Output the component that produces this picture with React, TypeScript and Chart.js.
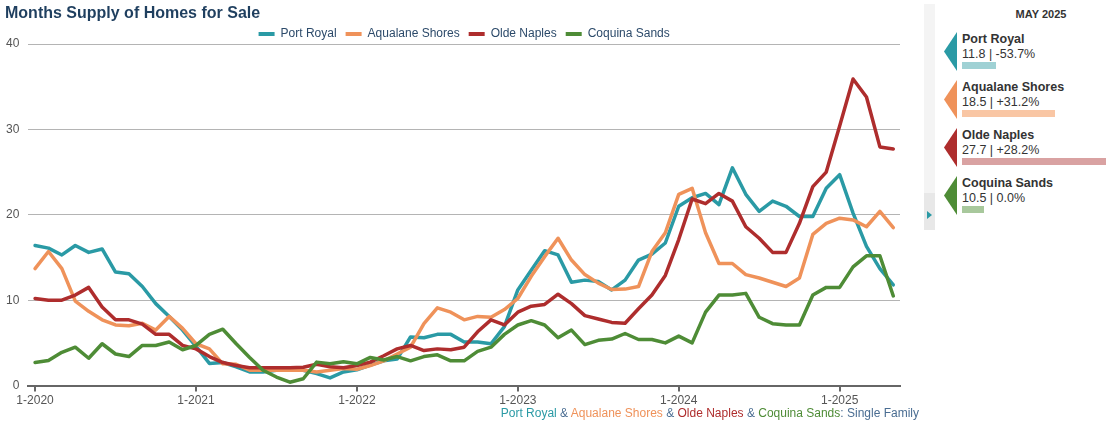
import React, { useEffect, useRef } from "react";
import { Chart, registerables } from "chart.js";

Chart.register(...registerables);

const years = ["2020", "2021", "2022", "2023", "2024", "2025"];
const monthsPerYear = 12;
const lastMonthCount = 5; // Jan..May 2025
const tickLabels = ["1-2020", "1-2021", "1-2022", "1-2023", "1-2024", "1-2025"];

const seriesNames = ["Port Royal", "Aqualane Shores", "Olde Naples", "Coquina Sands"];
const seriesColors = ["#2a9aa5", "#ef925a", "#ae2d2d", "#4e8c36"];
const seriesLightColors = ["#9fd1d4", "#f9c6a4", "#d9a2a2", "#a8c89c"];

const portRoyal = [
  16.4, 16.1, 15.3, 16.4, 15.6, 16.0, 13.3, 13.1, 11.6, 9.6, 8.1, 6.5,
  4.6, 2.6, 2.7, 2.2, 1.6, 1.6, 1.8, 1.8, 1.8, 1.4, 0.9, 1.6,
  1.85, 2.4, 2.9, 3.1, 5.7, 5.6, 6.0, 6.0, 5.1, 5.1, 4.9, 6.9,
  11.2, 13.5, 15.8, 15.3, 12.1, 12.35, 12.2, 11.2, 12.35, 14.7, 15.4, 16.7,
  21.0, 22.0, 22.5, 21.2, 25.5, 22.4, 20.4, 21.6, 21.0, 19.8, 19.8, 23.1,
  24.7, 20.2, 16.3, 13.7, 11.8,
];
const aqualaneShores = [
  13.7, 15.7, 13.7, 9.9, 8.7, 7.7, 7.1, 7.0, 7.3, 6.5, 8.1, 6.7,
  4.9, 4.3, 2.55, 2.5, 1.8, 1.8, 1.8, 1.8, 1.8, 1.6, 1.8, 2.0,
  1.9, 2.35, 2.9, 3.7, 4.5, 7.25, 9.1, 8.6, 7.7, 8.1, 8.0, 8.9,
  10.2, 12.8, 15.1, 17.25, 14.7, 13.0, 12.0, 11.25, 11.3, 11.6, 15.7, 17.9,
  22.4, 23.1, 17.9, 14.3, 14.3, 13.0, 12.6, 12.1, 11.6, 12.6, 17.7, 19.0,
  19.6, 19.4, 18.6, 20.4, 18.5,
];
const oldeNaples = [
  10.2, 10.0, 10.0, 10.6, 11.5, 9.2, 7.7, 7.7, 7.2, 6.0, 6.0, 4.7,
  4.3, 3.4, 2.7, 2.35, 2.1, 2.1, 2.1, 2.1, 2.15, 2.5, 2.2, 2.1,
  2.35, 2.75, 3.5, 4.3, 4.7, 4.1, 4.3, 4.2, 4.5, 6.3, 7.7, 7.1,
  8.6, 9.3, 9.5, 10.7, 9.6, 8.2, 7.8, 7.4, 7.3, 9.0, 10.6, 12.9,
  17.1, 21.85, 21.3, 22.5, 21.6, 18.6, 17.25, 15.6, 15.6, 19.0, 23.3, 25.0,
  30.4, 35.9, 33.8, 27.95, 27.7,
];
const coquinaSands = [
  2.7, 2.95, 3.9, 4.5, 3.2, 4.9, 3.7, 3.4, 4.7, 4.7, 5.1, 4.2,
  4.7, 6.0, 6.6, 4.9, 3.3, 1.8, 1.0, 0.4, 0.8, 2.75, 2.55, 2.8,
  2.55, 3.3, 3.0, 3.4, 2.9, 3.4, 3.6, 2.9, 2.9, 4.0, 4.5, 6.0,
  7.1, 7.6, 7.1, 5.6, 6.5, 4.8, 5.3, 5.45, 6.1, 5.4, 5.4, 5.0,
  5.8, 5.0, 8.6, 10.6, 10.6, 10.8, 8.0, 7.25, 7.1, 7.1, 10.6, 11.5,
  11.5, 13.9, 15.2, 15.2, 10.5,
];

const panelMonth = "MAY 2025";
const panelValues = ["11.8", "18.5", "27.7", "10.5"];
const panelChanges = ["-53.7%", "+31.2%", "+28.2%", "0.0%"];
const panelBarWidths = [34, 93, 146, 22];

const FONT = "'Liberation Sans', Arial, Helvetica, sans-serif";

function buildLabels(): string[] {
  const out: string[] = [];
  years.forEach((y, yi) => {
    const n = yi === years.length - 1 ? lastMonthCount : monthsPerYear;
    for (let m = 1; m <= n; m++) out.push(`${m}-${y}`);
  });
  return out;
}

// shrink the space below the legend a little
const legendTighten = {
  id: "legendTighten",
  beforeInit(chart: any) {
    const lg = chart.legend;
    if (!lg || lg.__tight) return;
    const origFit = lg.fit.bind(lg);
    lg.fit = function () {
      origFit();
      this.height = Math.max(0, this.height - 6);
      if (this.minSize) this.minSize.height = this.height;
    };
    lg.__tight = true;
  },
};

export default function App() {
  const canvasRef = useRef<HTMLCanvasElement | null>(null);

  useEffect(() => {
    if (!canvasRef.current) return;
    const labels = buildLabels();
    const seriesData = [portRoyal, aqualaneShores, oldeNaples, coquinaSands];
    const chart = new Chart(canvasRef.current, {
      type: "line",
      data: {
        labels,
        datasets: seriesData.map((d, i) => ({
          label: seriesNames[i],
          data: d,
          borderColor: seriesColors[i],
          backgroundColor: seriesColors[i],
          borderWidth: 3.5,
          pointRadius: 0,
          tension: 0,
          borderJoinStyle: "round" as const,
          borderCapStyle: "round" as const,
          order: seriesData.length - i,
        })),
      },
      plugins: [legendTighten],
      options: {
        animation: false,
        responsive: true,
        maintainAspectRatio: false,
        layout: { padding: { top: 19, right: 20, left: -3, bottom: 14 } },
        plugins: {
          title: { display: false },
          tooltip: { enabled: false },
          legend: {
            position: "top",
            align: "center",
            fullSize: false,
            labels: {
              boxWidth: 16,
              boxHeight: 4,
              padding: 9,
              color: "#2c4a6a",
              font: { family: FONT, size: 12 },
              sort: (a: any, b: any) => a.datasetIndex - b.datasetIndex,
              generateLabels: (c: any) => {
                const base = Chart.defaults.plugins.legend.labels.generateLabels(c);
                return base.map((l: any) => ({
                  ...l,
                  lineWidth: 0,
                  strokeStyle: "transparent",
                  fillStyle: seriesColors[l.datasetIndex],
                }));
              },
            },
          },
        },
        scales: {
          x: {
            type: "category",
            offset: true,
            grid: {
              drawOnChartArea: false,
              drawTicks: true,
              tickLength: 6,
              color: "#666",
              lineWidth: 2,
            },
            border: { display: true, color: "#666", width: 2 },
            ticks: {
              autoSkip: false,
              maxRotation: 0,
              color: "#555",
              padding: 2,
              font: { family: FONT, size: 12 },
              callback: (_v: any, i: number) =>
                i % monthsPerYear === 0 ? tickLabels[i / monthsPerYear] : null,
            },
          },
          y: {
            min: 0,
            max: 40,
            ticks: {
              stepSize: 10,
              color: "#555",
              padding: 9,
              font: { family: FONT, size: 12 },
            },
            grid: { color: "#b4b4b4", lineWidth: 1, drawTicks: false },
            border: { display: false },
          },
        },
      },
    });
    return () => chart.destroy();
  }, []);

  const sep = "#4a6d92";

  return (
    <div
      style={{
        position: "fixed",
        left: 0,
        top: 0,
        width: 1106,
        height: 424,
        background: "#fff",
        fontFamily: FONT,
        overflow: "hidden",
      }}
    >
      <div style={{ position: "absolute", left: 0, top: 0, width: 920, height: 424 }}>
        <canvas ref={canvasRef} />
      </div>
      <div
        style={{
          position: "absolute",
          left: 5,
          top: 4,
          fontSize: 16,
          fontWeight: "bold",
          color: "#1f3f5f",
          whiteSpace: "nowrap",
        }}
      >
        Months Supply of Homes for Sale
      </div>
      <div
        style={{
          position: "absolute",
          right: 187,
          top: 406,
          fontSize: 12,
          whiteSpace: "nowrap",
          color: sep,
        }}
      >
        <span style={{ color: seriesColors[0] }}>{seriesNames[0]}</span>
        <span> &amp; </span>
        <span style={{ color: seriesColors[1] }}>{seriesNames[1]}</span>
        <span> &amp; </span>
        <span style={{ color: seriesColors[2] }}>{seriesNames[2]}</span>
        <span> &amp; </span>
        <span style={{ color: seriesColors[3] }}>{seriesNames[3]}</span>
        <span>: Single Family</span>
      </div>
      {/* separator strip */}
      <div
        style={{
          position: "absolute",
          left: 924,
          top: 4,
          width: 11,
          height: 189,
          background: "#f4f4f4",
        }}
      />
      <div
        style={{
          position: "absolute",
          left: 924,
          top: 193,
          width: 11,
          height: 37,
          background: "#e8e8e8",
        }}
      />
      <div
        style={{
          position: "absolute",
          left: 927,
          top: 211,
          width: 0,
          height: 0,
          borderTop: "4px solid transparent",
          borderBottom: "4px solid transparent",
          borderLeft: "5px solid #2a9aa5",
        }}
      />
      {/* right panel */}
      <div
        style={{
          position: "absolute",
          left: 940,
          width: 202,
          top: 8,
          textAlign: "center",
          fontSize: 11,
          fontWeight: "bold",
          color: "#333",
        }}
      >
        {panelMonth}
      </div>
      {seriesNames.map((name, i) => {
        const top = 28 + i * 48;
        return (
          <React.Fragment key={name}>
            <div
              style={{
                position: "absolute",
                left: 944,
                top: top + 4,
                width: 13,
                height: 39,
                background: seriesColors[i],
                clipPath: "polygon(100% 0, 0 50%, 100% 100%)",
              }}
            />
            <div
              style={{
                position: "absolute",
                left: 962,
                top: top + 4,
                fontSize: 12.5,
                fontWeight: "bold",
                color: "#333",
                whiteSpace: "nowrap",
              }}
            >
              {name}
            </div>
            <div
              style={{
                position: "absolute",
                left: 962,
                top: top + 19,
                fontSize: 12.5,
                color: "#333",
                whiteSpace: "nowrap",
              }}
            >
              {panelValues[i]} | {panelChanges[i]}
            </div>
            <div
              style={{
                position: "absolute",
                left: 962,
                top: top + 34,
                width: panelBarWidths[i],
                height: 7,
                background: seriesLightColors[i],
              }}
            />
          </React.Fragment>
        );
      })}
    </div>
  );
}
